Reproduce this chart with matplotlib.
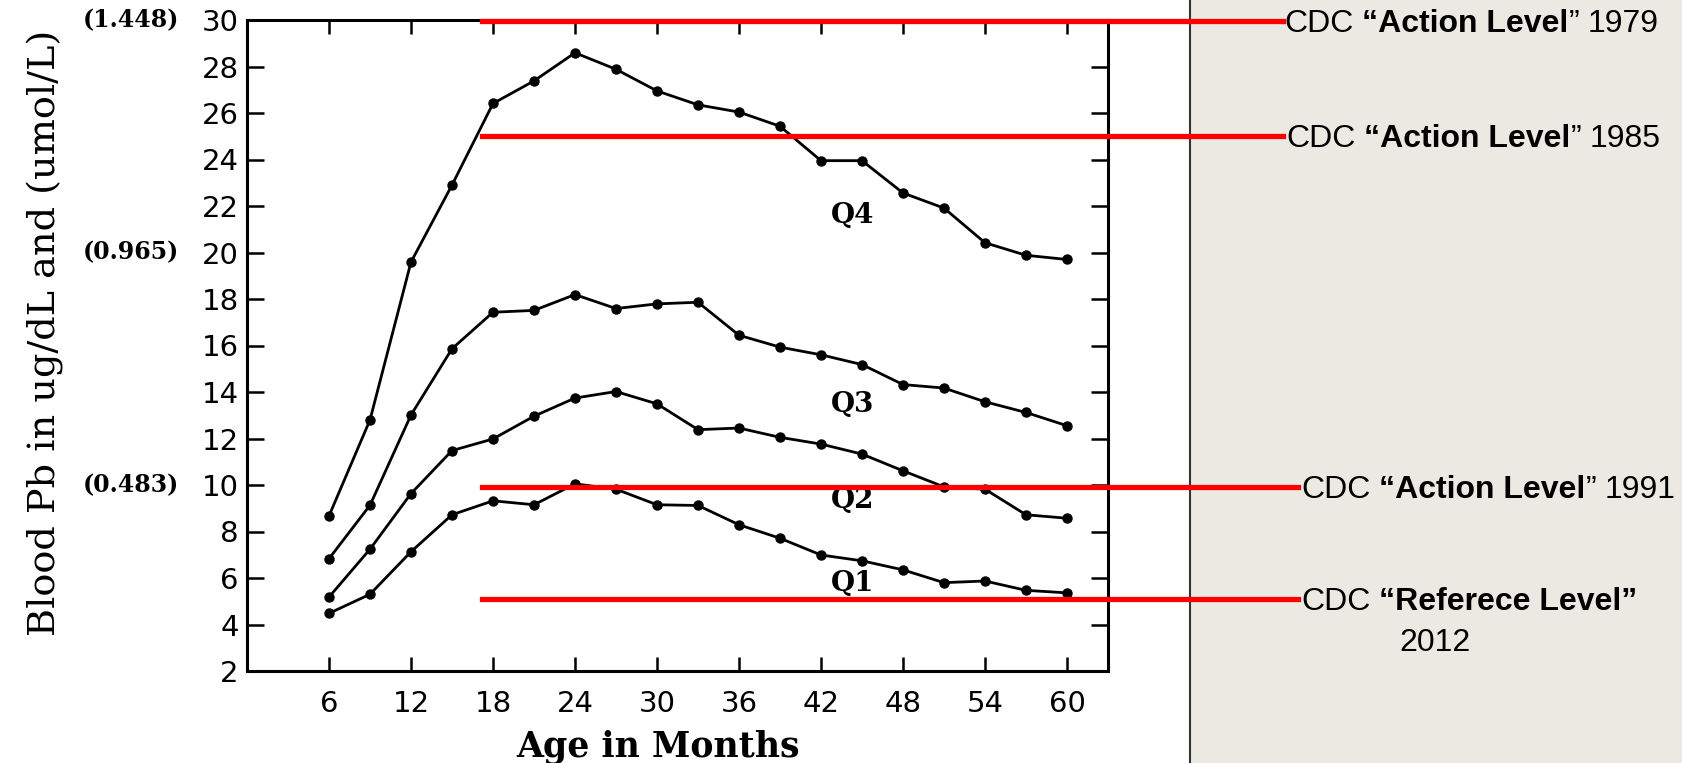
import matplotlib
matplotlib.use("Agg")
import matplotlib.pyplot as plt
from matplotlib.patches import Rectangle
from matplotlib.lines import Line2D

# Datos (Blood Pb por cuartil, ug/dL)
months = [6, 9, 12, 15, 18, 21, 24, 27, 30, 33, 36, 39, 42, 45, 48, 51, 54, 57, 60]
q1 = [4.48, 5.30, 7.13, 8.72, 9.32, 9.15, 10.05, 9.82, 9.15, 9.12, 8.29, 7.71, 6.99, 6.74, 6.35, 5.80, 5.87, 5.47, 5.36]
q2 = [5.18, 7.24, 9.63, 11.48, 11.98, 12.96, 13.74, 14.02, 13.49, 12.38, 12.45, 12.05, 11.76, 11.33, 10.61, 9.92, 9.82, 8.72, 8.57]
q3 = [6.83, 9.13, 13.01, 15.86, 17.43, 17.51, 18.19, 17.59, 17.79, 17.86, 16.44, 15.93, 15.60, 15.18, 14.32, 14.17, 13.58, 13.12, 12.55]
q4 = [8.67, 12.80, 19.59, 22.90, 26.41, 27.38, 28.59, 27.88, 26.95, 26.35, 26.04, 25.43, 23.95, 23.95, 22.56, 21.91, 20.42, 19.88, 19.70]

quartile_labels = ["Q1", "Q2", "Q3", "Q4"]
quartile_label_y = [5.75, 9.35, 13.45, 21.6]

x_ticks = [6, 12, 18, 24, 30, 36, 42, 48, 54, 60]
y_ticks = list(range(2, 31, 2))
umol_values = [30, 20, 10]
umol_labels = ["(1.448)", "(0.965)", "(0.483)"]

cdc_levels = [29.95, 25.0, 9.9, 5.1]
cdc_years = ["1979", "1985", "1991", "2012"]

W, H = 1682, 763
fig = plt.figure(figsize=(W / 100, H / 100), dpi=100)
fig.patch.set_facecolor("white")

# panel gris a la derecha
panel_x = 1190 / W
fig.patches.append(Rectangle((panel_x, 0), 1 - panel_x, 1, transform=fig.transFigure,
                             facecolor="#ECE9E2", edgecolor="none", zorder=-2))
fig.lines.append(Line2D([panel_x, panel_x], [0, 1], transform=fig.transFigure,
                        color="#333333", lw=1.5, zorder=-1))

ax = fig.add_axes([247 / W, 92 / H, 861 / W, 651 / H])
ax.set_xlim(0, 63)
ax.set_ylim(2, 30)

for q in [q1, q2, q3, q4]:
    ax.plot(months, q, color="black", lw=2.0, marker="o", markersize=6.5, zorder=3)

for lab, yy in zip(quartile_labels, quartile_label_y):
    ax.text(44.3, yy, lab, fontsize=20, fontweight="bold", family="DejaVu Serif",
            ha="center", va="center")

ax.set_xticks(x_ticks)
ax.set_yticks(y_ticks)
ax.tick_params(axis="both", direction="in", top=True, right=True, width=1.8)
ax.tick_params(axis="y", length=12, pad=6)
ax.tick_params(axis="x", length=10, pad=14)
for lbl in ax.get_xticklabels() + ax.get_yticklabels():
    lbl.set_fontsize(21)
    lbl.set_family("DejaVu Sans")
for sp in ax.spines.values():
    sp.set_linewidth(2.2)

for v, s in zip(umol_values, umol_labels):
    ax.text(-68 / 861, v, s, transform=ax.get_yaxis_transform(), ha="right", va="center",
            fontsize=17, fontweight="bold", family="DejaVu Serif")

ax.set_xlabel("Age in Months", fontsize=25, fontweight="bold", family="DejaVu Serif")
ax.xaxis.set_label_coords(0.477, -0.09)
ax.set_ylabel("Blood Pb in ug/dL and (umol/L)", fontsize=27.5, family="DejaVu Serif")
ax.yaxis.set_label_coords(-0.212, 0.52)

# lineas rojas de niveles CDC
line_start = 17.2
line_ends = [75.8, 75.8, 76.9, 76.9]
for lvl, xe in zip(cdc_levels, line_ends):
    ax.plot([line_start, xe], [lvl, lvl], color="#FF0000", lw=3.8, clip_on=False, zorder=4)

# textos con partes en negrita
fig.canvas.draw()
renderer = fig.canvas.get_renderer()
FS = 23


def text_width(s, weight):
    t = fig.text(0, 0, s, fontsize=FS, fontweight=weight, family="Liberation Sans")
    w = t.get_window_extent(renderer).width
    t.remove()
    return w


space = text_width("x x", "normal") - text_width("xx", "normal")


def rich_text(x_px, y_px, parts):
    x = x_px
    for s, weight, gap in parts:
        t = fig.text(x / W, y_px / H, s, fontsize=FS, fontweight=weight,
                     family="Liberation Sans", ha="left", va="center")
        x += t.get_window_extent(renderer).width + (space if gap else 0)


text_x = [1284, 1286, 1301, 1301]
for lvl, yr, tx in zip(cdc_levels, cdc_years, text_x):
    y_px = ax.transData.transform((0, lvl))[1] - 3
    if yr == "2012":
        rich_text(tx, y_px, [("CDC", "normal", True), ("\u201cReferece Level\u201d", "bold", False)])
        fig.text(1435 / W, y_px / H - 41 / H, yr, fontsize=FS, family="Liberation Sans",
                 ha="center", va="center")
    else:
        rich_text(tx, y_px, [("CDC", "normal", True), ("\u201cAction Level", "bold", False),
                             ("\u201d", "normal", True), (yr, "normal", False)])

fig.savefig("out.png", dpi=100)
